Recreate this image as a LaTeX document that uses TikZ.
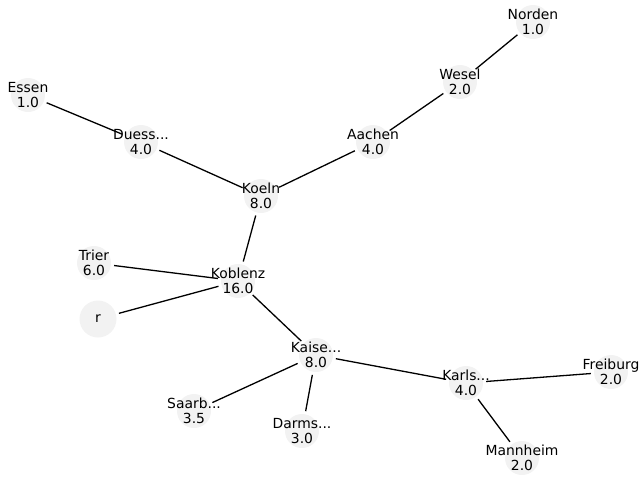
\documentclass[tikz,border=0pt]{standalone}
\usepackage{fontspec}
\setmainfont{DejaVu Sans}
\definecolor{nodegray}{RGB}{242,242,242}
\begin{document}
\begin{tikzpicture}[x=1pt,y=-1pt,
  city/.style={circle, fill=nodegray, minimum size=34pt, inner sep=0pt},
  lbl/.style={align=center, inner sep=0pt, font=\fontsize{13.9}{15.5}\selectfont},
  edge/.style={line width=1.3pt, black, shorten >=3pt, shorten <=3pt}]
\useasboundingbox (0,0) rectangle (640,480);

% city positions (circles)
\node[city] (norden)   at (533,22)  {};
\node[city] (wesel)    at (460,82)  {};
\node[city] (essen)    at (28,95)   {};
\node[city] (duess)    at (141,142) {};
\node[city] (aachen)   at (373,142) {};
\node[city] (koeln)    at (261,196) {};
\node[city] (trier)    at (94,263)  {};
\node[city] (koblenz)  at (238,281) {};
\node[city, minimum size=37pt] (r) at (98,319) {};
\node[city] (kaise)    at (316,355) {};
\node[city] (karls)    at (466,383) {};
\node[city] (freiburg) at (611,372) {};
\node[city] (saarb)    at (194,411) {};
\node[city] (darms)    at (302,431) {};
\node[city] (mannheim) at (522,458) {};

% labels
\node[lbl] at (norden)   {Norden\\1.0};
\node[lbl] at (wesel)    {Wesel\\2.0};
\node[lbl] at (essen)    {Essen\\1.0};
\node[lbl] at (duess)    {Duess...\\4.0};
\node[lbl] at (aachen)   {Aachen\\4.0};
\node[lbl] at (koeln)    {Koeln\\8.0};
\node[lbl] at (trier)    {Trier\\6.0};
\node[lbl] at (koblenz)  {Koblenz\\16.0};
\node[lbl] at (r)        {r};
\node[lbl] at (kaise)    {Kaise...\\8.0};
\node[lbl] at (karls)    {Karls...\\4.0};
\node[lbl] at (freiburg) {Freiburg\\2.0};
\node[lbl] at (saarb)    {Saarb...\\3.5};
\node[lbl] at (darms)    {Darms...\\3.0};
\node[lbl] at (mannheim) {Mannheim\\2.0};

% connections
\draw[edge] (norden) -- (wesel);
\draw[edge] (wesel) -- (aachen);
\draw[edge] (aachen) -- (koeln);
\draw[edge] (essen) -- (duess);
\draw[edge] (duess) -- (koeln);
\draw[edge] (koeln) -- (koblenz);
\draw[edge] (trier) -- (koblenz);
\draw[edge] (r) -- (koblenz);
\draw[edge] (koblenz) -- (kaise);
\draw[edge] (kaise) -- (saarb);
\draw[edge] (kaise) -- (darms);
\draw[edge] (kaise) -- (karls);
\draw[edge] (karls) -- (freiburg);
\draw[edge] (karls) -- (mannheim);
\end{tikzpicture}
\end{document}
